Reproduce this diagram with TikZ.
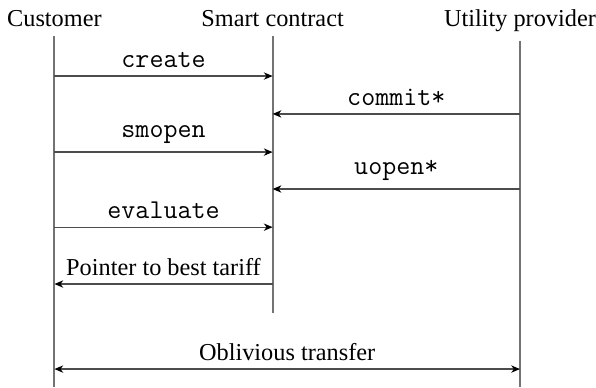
\documentclass[tikz,border=0pt]{standalone}
\usepackage{fontspec}
\setmainfont{Liberation Serif}
\usetikzlibrary{arrows.meta}
\newcommand{\msg}[1]{{\fontsize{11.2}{13}\ttfamily #1}}

\begin{document}
\begin{tikzpicture}[x=1pt,y=1pt]
	\useasboundingbox (0,0) rectangle (245.3,-159.3);
	% actores
	\node[anchor=base] (cust) at (22.4,-11) {Customer};
	\node[anchor=base] (sc) at (112.2,-11) {Smart contract};
	\node[anchor=base] (up) at (214,-11) {Utility provider};
	\coordinate (fin) at (0,-159.3);
	\coordinate (finsc) at (0,-128.7);

	% lineas de vida
	\begin{scope}[line width=0.8pt,black!55]
	\draw (cust.south) -- (cust.south |- fin);
	\draw (sc.south) -- (sc.south |- finsc);
	\draw (up.south) -- (up.south |- fin);
	\end{scope}

	% puntos de los mensajes
	\foreach \n/\y in {1/31.3,2/46.9,3/62.6,4/77.8,5/93.5,6/116.9,7/151.9}{
		\coordinate (c\n) at (22.4,-\y);
		\coordinate (s\n) at (112.2,-\y);
		\coordinate (u\n) at (214,-\y);
	}

	% mensajes
	\begin{scope}[->,>={Stealth[length=3.6pt,width=3pt,inset=1.1pt,black]},line width=0.55pt,black!70]
	\draw (c1) -- node[above,black] (lcreate) {\msg{create}} (s1);
	\draw (u2) -- node[above,black] (lcommit) {\msg{commit*}} (s2);
	\draw (c3) -- node[above,black] (lsmopen) {\msg{smopen}} (s3);
	\draw (u4) -- node[above,black] (luopen) {\msg{uopen*}} (s4);
	\draw (c5) -- node[above,black] (leval) {\msg{evaluate}} (s5);
	\draw (s6) -- node[above,black] (lpointer) {Pointer to best tariff} (c6);
	\draw[<->] (c7) -- node[above,black] (lot) {Oblivious transfer} (u7);
	\end{scope}
\end{tikzpicture}
\end{document}
